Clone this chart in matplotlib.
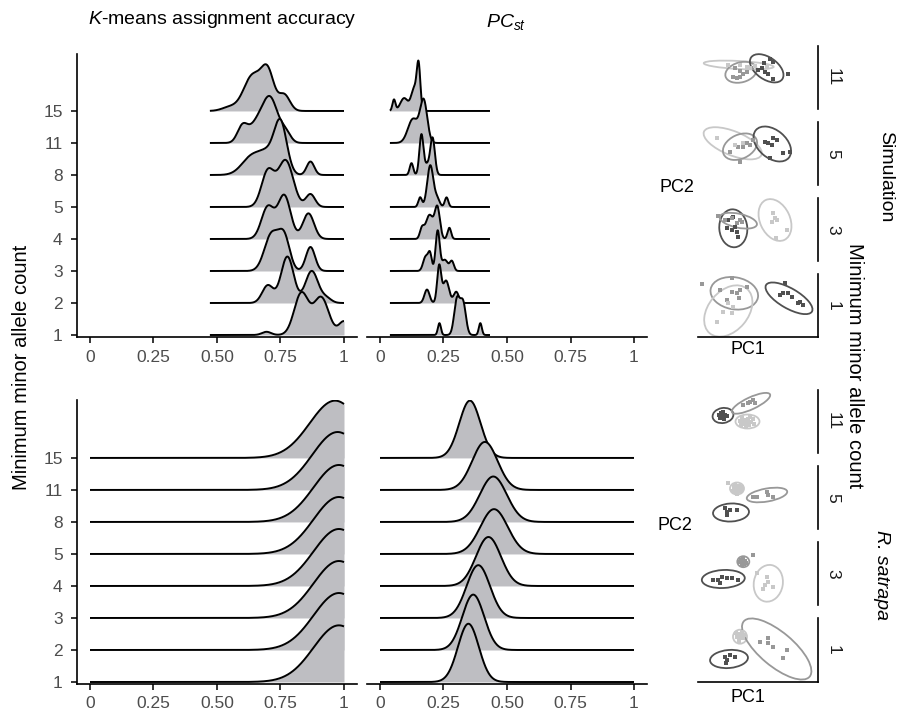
import numpy as np
import matplotlib
matplotlib.use('Agg')
import matplotlib.pyplot as plt
from matplotlib.patches import Ellipse

plt.rcParams['font.family'] = ['Liberation Sans', 'DejaVu Sans']
plt.rcParams['mathtext.fontset'] = 'custom'
plt.rcParams['mathtext.rm'] = 'Liberation Sans'
plt.rcParams['mathtext.it'] = 'Liberation Sans:italic'

W, H = 904, 713

mac_levels = ['1', '2', '3', '4', '5', '8', '11', '15']
facet_levels = ['11', '5', '3', '1']
x_ticks = [0, 0.25, 0.5, 0.75, 1]
x_labels = ['0', '0.25', '0.50', '0.75', '1']

# ridge bumps per row (order of mac_levels): (centre, sd, height in row units)
sim_acc_range = (0.472, 1.0)
sim_acc_bumps = [
    [(0.695, 0.018, 0.1), (0.832, 0.028, 1.3), (0.91, 0.03, 1.17), (1.0, 0.02, 0.42)],
    [(0.70, 0.022, 0.55), (0.777, 0.025, 1.45), (0.873, 0.025, 1.0), (0.93, 0.02, 0.15)],
    [(0.715, 0.028, 1.15), (0.765, 0.022, 1.0), (0.868, 0.018, 0.75)],
    [(0.70, 0.025, 1.0), (0.765, 0.025, 1.35), (0.86, 0.022, 0.8)],
    [(0.70, 0.025, 1.1), (0.77, 0.03, 1.45), (0.868, 0.018, 0.4)],
    [(0.64, 0.04, 0.6), (0.70, 0.03, 0.5), (0.75, 0.025, 1.6), (0.868, 0.015, 0.42)],
    [(0.60, 0.02, 0.5), (0.655, 0.03, 0.55), (0.71, 0.03, 1.35), (0.77, 0.02, 0.3)],
    [(0.55, 0.03, 0.12), (0.64, 0.035, 1.1), (0.70, 0.025, 1.15), (0.765, 0.022, 0.5)],
]
sim_pcst_range = (0.039, 0.433)
sim_pcst_bumps = [
    [(0.234, 0.006, 0.37), (0.303, 0.011, 1.1), (0.327, 0.011, 1.0), (0.395, 0.006, 0.37)],
    [(0.185, 0.01, 0.42), (0.233, 0.008, 1.15), (0.26, 0.012, 0.7), (0.3, 0.01, 0.35)],
    [(0.18, 0.01, 0.45), (0.197, 0.007, 0.5), (0.227, 0.008, 1.25), (0.255, 0.012, 0.35), (0.283, 0.008, 0.3)],
    [(0.165, 0.008, 0.3), (0.195, 0.015, 0.75), (0.226, 0.01, 0.95), (0.273, 0.007, 0.35)],
    [(0.158, 0.007, 0.3), (0.198, 0.012, 1.3), (0.225, 0.01, 0.25), (0.262, 0.007, 0.3)],
    [(0.124, 0.007, 0.37), (0.163, 0.008, 1.25), (0.185, 0.01, 0.3), (0.207, 0.009, 1.15)],
    [(0.13, 0.02, 0.75), (0.172, 0.014, 1.3)],
    [(0.055, 0.006, 0.35), (0.095, 0.015, 0.4), (0.135, 0.012, 0.7), (0.152, 0.007, 1.3)],
]
real_acc_centre = [0.98, 0.98, 0.98, 0.98, 0.98, 0.98, 0.975, 0.965]
real_acc_sd = [0.1, 0.1, 0.1, 0.1, 0.1, 0.1, 0.1, 0.1]
real_acc_height = [1.77, 1.78, 1.78, 1.78, 1.78, 1.78, 1.81, 1.79]
real_pcst_centre = [0.348, 0.367, 0.387, 0.427, 0.449, 0.446, 0.413, 0.354]
real_pcst_sd = [0.041, 0.043, 0.046, 0.049, 0.054, 0.053, 0.05, 0.042]
real_pcst_height = [1.82, 1.73, 1.65, 1.53, 1.4, 1.42, 1.5, 1.79]

# PCA facets: (group, PC1, PC2) and ellipses (group, x, y, width, height, angle)
sim11_pts = [('d', 72, 49.7), ('d', 74.7, 47.3), ('d', 66, 45.7), ('d', 63.7, 40.7), ('d', 60.3, 39),
             ('d', 67, 37.3), ('d', 70.3, 35), ('d', 75.3, 29.7), ('d', 90.3, 35),
             ('m', 35.3, 32.3), ('m', 38.7, 30.7), ('m', 42, 32.3), ('m', 45.3, 35), ('m', 48.7, 37.3),
             ('m', 42, 38.3), ('m', 37, 40.7), ('m', 53.7, 40.7),
             ('l', 30.3, 44), ('l', 42, 44), ('l', 48.7, 42.3), ('l', 57, 43), ('l', 52, 40.7), ('l', 68.7, 41.7)]
sim11_ell = [('l', 40.7, 44, 70, 8, -3), ('m', 43, 36.7, 32, 20, 15), ('d', 68.7, 40.7, 38, 22, -35)]
sim5_pts = [('d', 67, 43.3), ('d', 70.3, 41.7), ('d', 75.3, 46.7), ('d', 78.7, 45), ('d', 73.7, 40),
            ('d', 85.3, 31.7), ('d', 92, 33.3), ('d', 72, 26.7),
            ('m', 32, 33.3), ('m', 40.3, 38.3), ('m', 45.3, 38.3), ('m', 48.7, 41.7), ('m', 52, 40),
            ('m', 42, 23.3), ('m', 55.3, 45),
            ('l', 18.7, 46.7), ('l', 36.7, 40), ('l', 45, 41.7)]
sim5_ell = [('l', 34.7, 41.7, 62, 24, -22), ('m', 42, 38.3, 36, 24, 25), ('d', 74.3, 41, 43, 28, -40)]
sim3_pts = [('d', 30.3, 41), ('d', 35.3, 44.3), ('d', 29.3, 32.7), ('d', 33.7, 31), ('d', 38.7, 29.3),
            ('d', 40.3, 24.3), ('d', 37, 34.3),
            ('m', 20.3, 45), ('m', 27, 41), ('m', 33.7, 42.7), ('m', 42, 41), ('m', 43.7, 39.3), ('m', 38.7, 37.7),
            ('l', 75.3, 47.7), ('l', 77, 42.7), ('l', 73.7, 39.3), ('l', 78.7, 41), ('l', 88.7, 31), ('l', 78, 22.7)]
sim3_ell = [('d', 35.3, 32.7, 38, 28, 95), ('m', 40.3, 40.3, 38, 14, -12), ('l', 77, 41, 44, 30, 115)]
sim1_pts = [('d', 87, 53.7), ('d', 82, 42), ('d', 85.3, 43.7), ('d', 90.3, 43.7), ('d', 93.7, 40.3),
            ('d', 100.3, 33.7), ('d', 105.3, 32), ('d', 102, 35.3),
            ('m', 3.7, 53), ('m', 22, 47), ('m', 33.7, 45.3), ('m', 38.7, 43.7), ('m', 42, 47), ('m', 48.7, 49.7),
            ('m', 33.7, 58.7), ('m', 41.3, 38.7), ('m', 28.7, 37),
            ('l', 30.3, 33.7), ('l', 35.3, 30.3), ('l', 25.3, 25.3), ('l', 18.7, 15.3), ('l', 33.7, 23.7)]
sim1_ell = [('m', 36.3, 43.7, 48, 32, -10), ('l', 30.3, 26, 58, 40, 50), ('d', 91, 38.7, 53, 20, -30)]

real11_pts = [('d', 21, 38), ('d', 23, 40), ('d', 25, 41), ('d', 24, 36), ('d', 27, 38), ('d', 26, 34),
              ('d', 29, 37), ('d', 22, 35), ('d', 25, 38),
              ('m', 45.3, 48), ('m', 50.3, 49.7), ('m', 55.3, 53), ('m', 57, 49.7), ('m', 52, 51.3),
              ('l', 42, 32), ('l', 44, 35), ('l', 47, 29), ('l', 50, 34), ('l', 53, 31), ('l', 48, 26),
              ('l', 51, 28), ('l', 45, 30), ('l', 49, 32), ('l', 55, 34), ('l', 46, 33), ('l', 52, 36),
              ('l', 43, 28), ('l', 56, 29)]
real11_ell = [('d', 25, 37.5, 21, 15, 10), ('m', 53, 49.7, 42, 12, 25), ('l', 49.5, 31.5, 24, 14, 0)]
real5_pts = [('d', 27, 20.7), ('d', 29.3, 17.3), ('d', 32, 19), ('d', 38.7, 19), ('d', 28.7, 14),
             ('m', 55.3, 32.3), ('m', 58.7, 31.7), ('m', 68.7, 37.3), ('m', 70.3, 34), ('m', 75.3, 31.7),
             ('l', 30.3, 45.7), ('l', 36, 42), ('l', 39, 39), ('l', 41, 43), ('l', 43, 38), ('l', 38, 36),
             ('l', 35, 38), ('l', 40, 41), ('l', 37, 44), ('l', 42, 40), ('l', 44, 42), ('l', 39, 35)]
real5_ell = [('l', 39, 40.5, 14, 12, 0), ('m', 69, 34, 41, 13, 10), ('d', 33, 16.5, 36, 18, 3)]
real3_pts = [('d', 15.3, 25), ('d', 20.3, 25), ('d', 23.7, 28.3), ('d', 28.7, 26.7), ('d', 33.7, 26.7),
             ('d', 40.3, 25), ('d', 22, 21.7),
             ('m', 42, 43), ('m', 45, 46), ('m', 48, 42), ('m', 44, 40), ('m', 47, 44), ('m', 43, 45),
             ('m', 46, 41), ('m', 54.7, 50),
             ('l', 58.7, 31.7), ('l', 68.7, 28.3), ('l', 70.3, 23.3), ('l', 67, 20), ('l', 65.3, 15.7),
             ('l', 75.3, 18.3)]
real3_ell = [('m', 45.3, 43.3, 12, 11, 0), ('d', 25.3, 26, 43, 18, 3), ('l', 70.3, 21.7, 37, 29, 80)]
real1_pts = [('d', 27, 25.3), ('d', 29.3, 22), ('d', 32, 27), ('d', 37, 25.3), ('d', 28, 18.7),
             ('m', 62, 40.3), ('m', 70.3, 38.7), ('m', 75.3, 35.3), ('m', 88.7, 32), ('m', 85.3, 23.7),
             ('m', 70.3, 43.7),
             ('l', 39, 45), ('l', 42, 48), ('l', 45, 44), ('l', 41, 41), ('l', 44, 50), ('l', 38, 49),
             ('l', 43, 45), ('l', 40, 47), ('l', 46, 47)]
real1_ell = [('l', 42, 45.3, 14, 14, 0), ('m', 78.7, 33, 86, 34, -40), ('d', 31, 23, 38, 18, 5)]

group_colour = {'d': '#505050', 'm': '#989898', 'l': '#c8c8c8'}
ridge_fill = '#bebec2'
tick_grey = '#4d4d4d'

fig = plt.figure(figsize=(W / 100, H / 100), dpi=100)


def add_ax(l, t, r, b):
    return fig.add_axes([l / W, 1 - b / H, (r - l) / W, (b - t) / H])


def draw_ridges(ax, bumps, lo, hi):
    x = np.linspace(lo, hi, 800)
    n = len(bumps)
    for i in range(n - 1, -1, -1):
        h = np.zeros_like(x)
        for c, s, a in bumps[i]:
            h += a * np.exp(-0.5 * ((x - c) / s) ** 2)
        z = 3 + 2 * (n - i)
        ax.fill_between(x, i, i + h, color=ridge_fill, lw=0, zorder=z)
        ax.plot(x, i + h, color='black', lw=1.4, zorder=z + 1, solid_capstyle='butt')


def style_ridge_ax(ax, ytop, show_y):
    ax.set_xlim(-0.05, 1.05)
    ax.set_ylim(-0.0625, ytop)
    for s in ['top', 'right']:
        ax.spines[s].set_visible(False)
    ax.spines['bottom'].set_linewidth(1.2)
    ax.spines['left'].set_linewidth(1.2)
    ax.set_xticks(x_ticks)
    ax.set_xticklabels(x_labels)
    ax.tick_params(axis='x', length=4, width=1.1, pad=5, labelsize=12.5, labelcolor=tick_grey)
    if show_y:
        ax.set_yticks(range(len(mac_levels)))
        ax.set_yticklabels(mac_levels)
        ax.tick_params(axis='y', length=4.5, width=1.1, pad=6, labelsize=12.5, labelcolor=tick_grey)
    else:
        ax.spines['left'].set_visible(False)
        ax.set_yticks([])
    ax.patch.set_alpha(0)


# simulation ridges
ax1 = add_ax(77.3, 54, 356.7, 337)
draw_ridges(ax1, sim_acc_bumps, *sim_acc_range)
style_ridge_ax(ax1, 8.78, True)
ax2 = add_ax(367.3, 54, 646.7, 337)
draw_ridges(ax2, sim_pcst_bumps, *sim_pcst_range)
style_ridge_ax(ax2, 8.78, False)

# R. satrapa ridges
real_acc_bumps = [[(c, s, h)] for c, s, h in zip(real_acc_centre, real_acc_sd, real_acc_height)]
real_pcst_bumps = [[(c, s, h)] for c, s, h in zip(real_pcst_centre, real_pcst_sd, real_pcst_height)]
ax3 = add_ax(77.3, 400, 356.7, 684)
draw_ridges(ax3, real_acc_bumps, 0, 1)
style_ridge_ax(ax3, 8.81, True)
ax4 = add_ax(367.3, 400, 646.7, 684)
draw_ridges(ax4, real_pcst_bumps, 0, 1)
style_ridge_ax(ax4, 8.81, False)


def draw_facet(t, b, pts, ells, label, bottom_axis):
    ax = add_ax(698, t, 818, b)
    ax.set_xlim(0, 120)
    ax.set_ylim(0, b - t)
    ax.set_xticks([])
    ax.set_yticks([])
    for s in ['top', 'left']:
        ax.spines[s].set_visible(False)
    ax.spines['right'].set_linewidth(1.2)
    if bottom_axis:
        ax.spines['bottom'].set_linewidth(1.2)
    else:
        ax.spines['bottom'].set_visible(False)
    ax.patch.set_alpha(0)
    for g, x, y in pts:
        ax.plot(x, y, 's', ms=3, mew=0, color=group_colour[g], clip_on=False)
    for g, x, y, w, h, a in ells:
        ax.add_patch(Ellipse((x, y), w, h, angle=a, fill=False, ec=group_colour[g], lw=1.3, clip_on=False))
    fig.text(833 / W, 1 - (t + b) / 2 / H, label, rotation=-90, ha='center', va='center',
             fontsize=12.5, color='#1a1a1a')


sim_frames = [(46, 109), (122, 185), (198, 261), (274, 337)]
real_frames = [(390, 453), (466, 529), (542, 605), (618, 682)]
sim_facets = [(sim11_pts, sim11_ell), (sim5_pts, sim5_ell), (sim3_pts, sim3_ell), (sim1_pts, sim1_ell)]
real_facets = [(real11_pts, real11_ell), (real5_pts, real5_ell), (real3_pts, real3_ell), (real1_pts, real1_ell)]
for k in range(4):
    draw_facet(*sim_frames[k], *sim_facets[k], facet_levels[k], k == 3)
    draw_facet(*real_frames[k], *real_facets[k], facet_levels[k], k == 3)


def ftext(x, y, s, **kw):
    fig.text(x / W, 1 - y / H, s, ha='center', va='center', **kw)


ftext(222, 20, '$K$-means assignment accuracy', fontsize=14)
ftext(506, 22, '$PC_{st}$', fontsize=14)
ftext(22, 367, 'Minimum minor allele count', fontsize=14.5, rotation=90)
ftext(855, 366, 'Minimum minor allele count', fontsize=14.5, rotation=-90)
ftext(886, 177, 'Simulation', fontsize=14, rotation=-90)
ftext(882, 575, 'R. satrapa', fontsize=14, rotation=-90, style='italic')
ftext(677, 188, 'PC2', fontsize=13)
ftext(675, 525, 'PC2', fontsize=13)
ftext(748, 350, 'PC1', fontsize=13)
ftext(748, 698, 'PC1', fontsize=13)

fig.savefig('out.png', dpi=100)
